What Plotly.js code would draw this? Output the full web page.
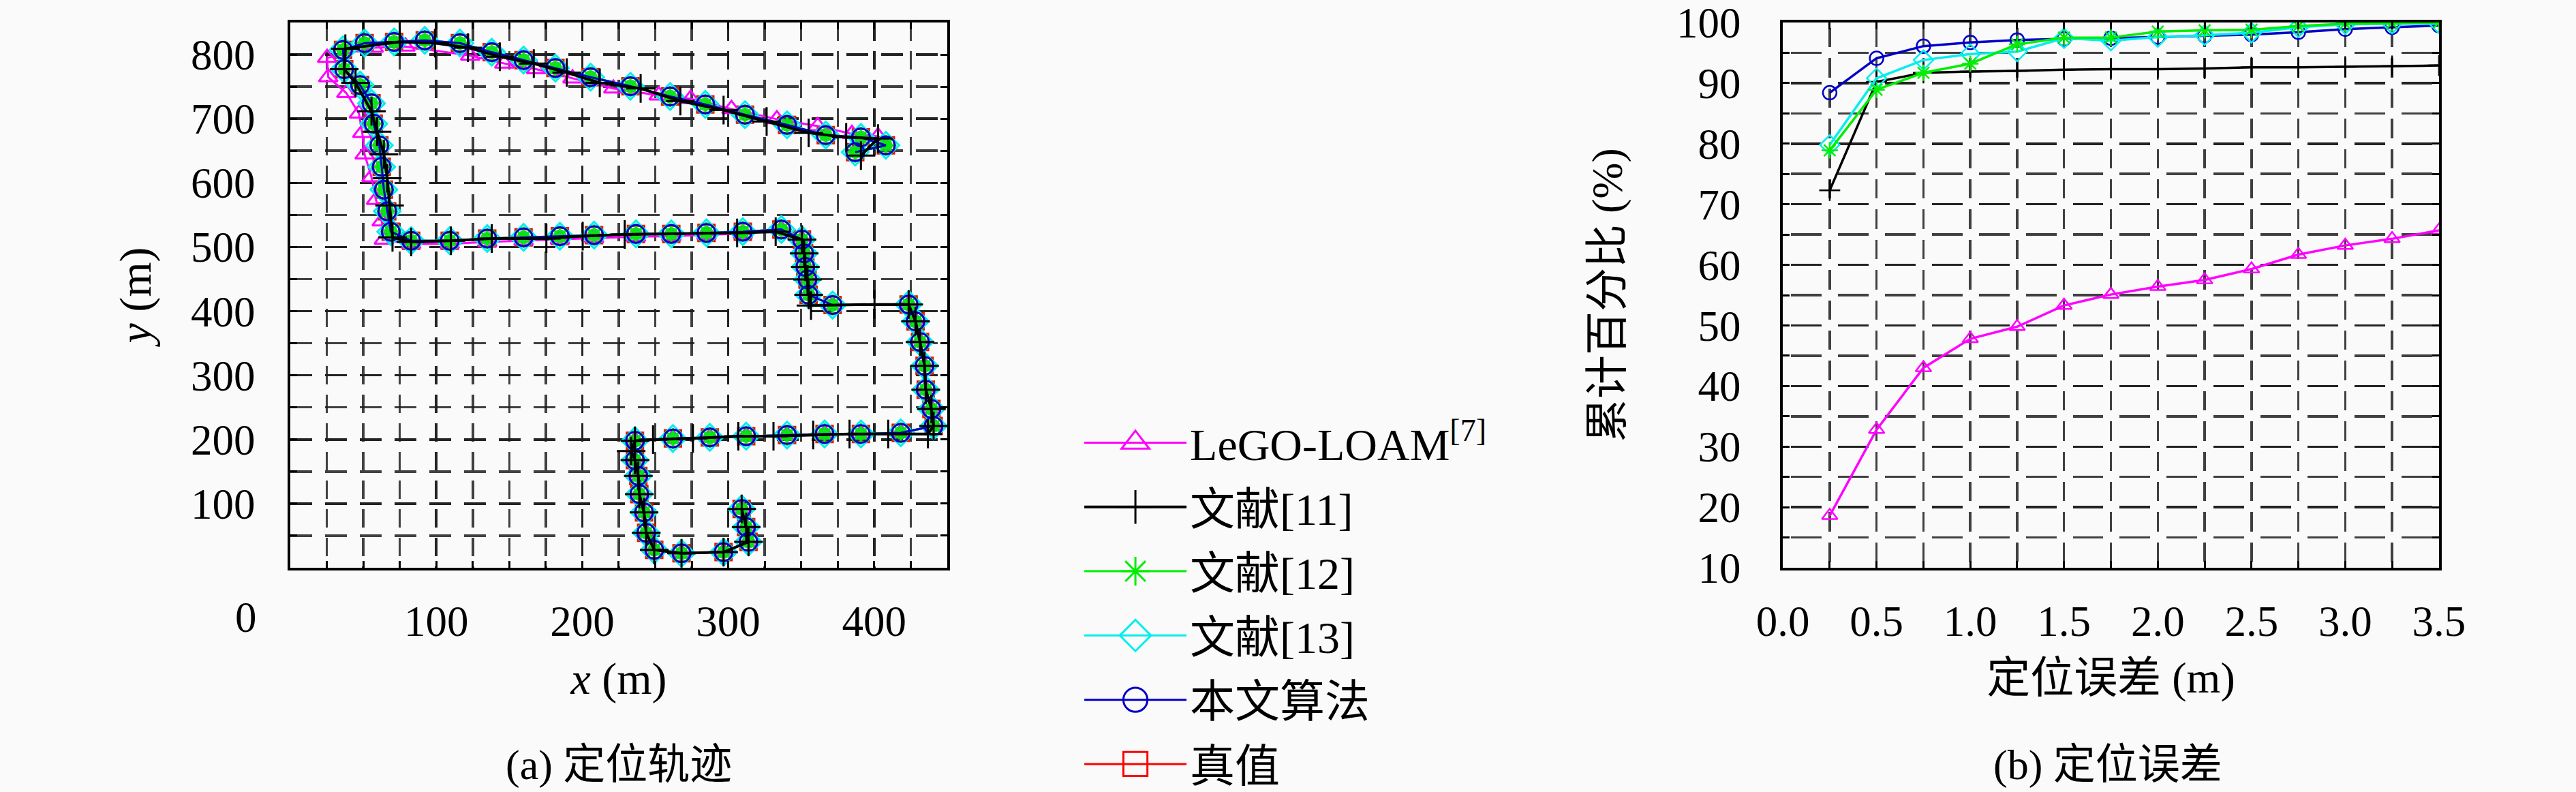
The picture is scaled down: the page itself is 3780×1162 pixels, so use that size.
<!DOCTYPE html>
<html>
<head>
<meta charset="utf-8">
<script src="https://cdn.plot.ly/plotly-3.0.1.min.js"></script>
<style>
  html, body { margin: 0; padding: 0; background: #fafafa; }
</style>
</head>
<body>
<div id="chart" style="width:3780px;height:1162px;"></div>
<script>
// (a) trajectory in metres (circle markers, same path for 12/13/ours/truth)
const trajX = [309.2, 312.3, 313.9, 296.8, 268.0, 249.3, 243.8, 242.3, 239.1, 238.4, 236.1, 236.1,
  262.1, 287.4, 312.3, 340.3, 366.0, 390.9, 418.2, 440.7, 439.2, 435.3, 434.5, 431.4, 428.3, 423.6,
  371.5, 355.1, 354.3, 352.8, 352.0, 350.5, 336.4, 310.0, 285.1, 261.0, 236.8, 208.1, 184.7, 159.8,
  134.9, 109.2, 82.8, 68.8, 66.4, 64.1, 62.6, 61.0, 57.1, 55.6, 47.8, 36.9, 36.1, 50.9, 71.1, 92.1,
  116.2, 138.0, 159.8, 181.6, 205.7, 233.0, 260.2, 284.3, 311.5, 340.3, 366.8, 390.9, 408.0, 387.0];
const trajY = [91.7, 63.4, 40.4, 24.4, 22.6, 28.0, 54.5, 86.4, 114.8, 143.1, 167.9, 198.0,
  201.6, 203.3, 205.1, 206.9, 208.6, 208.6, 210.4, 221.0, 247.6, 277.7, 314.9, 352.1, 384.0, 410.5,
  409.6, 425.5, 449.5, 469.0, 490.2, 511.5, 527.4, 523.9, 522.1, 520.4, 520.4, 518.6, 516.8, 515.1,
  513.3, 509.8, 509.8, 523.9, 555.8, 589.5, 624.9, 658.5, 692.1, 724.0, 752.4, 777.2, 807.3, 817.9,
  819.7, 822.2, 817.9, 803.7, 791.4, 779.0, 764.8, 750.6, 734.7, 722.3, 706.3, 690.4, 674.5, 670.9,
  658.5, 647.9];

// 文献[11] (+ markers)
const ref11X = [309.2, 312.3, 313.9, 296.8, 268.0, 249.3, 243.8, 242.3, 239.1, 238.4, 236.1, 233.5,
  236.1, 248.5, 275.8, 306.9, 331.0, 358.2, 383.1, 409.6, 436.8, 440.7, 439.2, 435.3, 434.5, 431.4,
  428.3, 423.6, 400.2, 356.7, 355.1, 354.3, 352.8, 352.0, 350.5, 332.5, 306.1, 229.1, 200.3, 175.4,
  138.0, 110.0, 82.8, 70.0, 68.0, 66.4, 64.1, 59.4, 55.6, 44.7, 36.9, 37.7, 75.0, 99.1, 121.7, 143.5,
  166.8, 189.4, 212.0, 240.0, 267.2, 296.8, 326.3, 355.1, 380.8, 402.6, 390.9];
const ref11Y = [91.7, 63.4, 40.4, 24.4, 22.6, 28.0, 54.5, 86.4, 114.8, 143.1, 167.9, 182.0,
  198.0, 199.8, 201.6, 205.1, 205.1, 206.9, 208.6, 208.6, 208.6, 221.0, 247.6, 277.7, 314.9, 352.1,
  384.0, 410.5, 410.5, 408.8, 425.5, 449.5, 469.0, 490.2, 511.5, 523.9, 522.1, 519.5, 516.8, 513.3,
  513.3, 509.8, 508.0, 515.0, 564.6, 607.1, 644.3, 679.8, 711.7, 755.9, 777.2, 809.1, 819.7, 817.9,
  810.8, 796.7, 786.0, 771.8, 756.0, 747.1, 727.6, 713.4, 695.7, 678.0, 670.9, 669.2, 642.6];

// LeGO-LOAM (triangles), drifts on the left column and top edge
const legoX = [309.2, 312.3, 313.9, 296.8, 268.0, 249.3, 243.8, 242.3, 239.1, 238.4, 236.1, 236.1,
  262.1, 287.4, 312.3, 340.3, 366.0, 390.9, 418.2, 440.7, 439.2, 435.3, 434.5, 431.4, 428.3, 423.6,
  371.5, 355.1, 354.3, 352.8, 352.0, 350.5, 336.4, 310.0, 285.1, 261.0, 236.8, 208.1, 184.7, 159.8,
  134.9, 109.2, 82.8, 64.1, 62.6, 58.7, 55.6, 50.9, 49.3, 47.0, 38.4, 26.0, 25.2, 57.1, 78.9, 123.2,
  146.6, 168.4, 193.3, 221.3, 252.4, 274.2, 302.2, 333.3, 361.3, 384.7, 402.6];
const legoY = [91.7, 63.4, 40.4, 24.4, 22.6, 28.0, 54.5, 86.4, 114.8, 143.1, 167.9, 198.0,
  201.6, 203.3, 205.1, 206.9, 208.6, 208.6, 210.4, 221.0, 247.6, 277.7, 314.9, 352.1, 384.0, 410.5,
  409.6, 425.5, 449.5, 469.0, 490.2, 511.5, 527.4, 521.0, 519.0, 517.0, 516.0, 514.0, 512.0, 510.0,
  508.0, 505.0, 505.0, 511.5, 539.9, 573.5, 608.9, 644.3, 678.0, 708.1, 740.0, 764.8, 794.9, 810.8,
  812.6, 798.4, 786.1, 777.2, 763.0, 747.1, 736.4, 731.1, 715.2, 699.3, 688.6, 676.2, 672.7];

// (b) cumulative percentage of localisation error
const errX = [0.25, 0.5, 0.75, 1.0, 1.25, 1.5, 1.75, 2.0, 2.25, 2.5, 2.75, 3.0, 3.25, 3.5];
const cdfLego = [18.6, 32.8, 43.0, 47.8, 49.8, 53.3, 55.1, 56.4, 57.5, 59.3, 61.7, 63.2, 64.3, 65.7];
const cdf11 = [72.3, 90.2, 91.7, 91.9, 92.0, 92.2, 92.3, 92.3, 92.4, 92.6, 92.6, 92.7, 92.8, 92.9];
const cdf12 = [78.9, 88.9, 91.7, 93.2, 96.4, 97.5, 97.5, 98.5, 98.7, 98.8, 99.4, 99.8, 99.9, 100.0];
const cdf13 = [79.8, 90.8, 93.8, 94.8, 95.2, 97.4, 97.0, 97.6, 97.9, 98.3, 99.2, 99.7, 99.8, 99.8];
const cdfOurs = [88.4, 94.1, 96.1, 96.7, 97.1, 97.3, 97.4, 97.6, 97.8, 98.0, 98.4, 98.9, 99.2, 99.5];

const names = ['LeGO-LOAM<sup>[7]</sup>', '文献[11]', '文献[12]', '文献[13]', '本文算法', '真值'];
const colors = ['#ff00ff', '#000000', '#00ee00', '#00eeee', '#0000c8', '#ff0000'];
const symbols = ['triangle-up-open', 'cross-thin-open', 'asterisk-open', 'diamond-open', 'circle-open', 'square-open'];

const FONT = "'Liberation Serif', 'Noto Sans CJK SC', serif";
const GRID = 'rgba(30,30,30,0.85)';

function trajTrace(i, xs, ys, size, lw) {
  return {
    x: xs, y: ys, xaxis: 'x', yaxis: 'y', type: 'scatter', mode: 'lines+markers',
    name: names[i], legendgroup: 'g' + i, legendrank: i + 1,
    line: { color: colors[i], width: lw },
    marker: { symbol: symbols[i], size: size, color: colors[i], line: { color: colors[i], width: 3 } }
  };
}
function errTrace(i, ys, size) {
  return {
    x: errX, y: ys, xaxis: 'x2', yaxis: 'y2', type: 'scatter', mode: 'lines+markers',
    name: names[i], legendgroup: 'g' + i, showlegend: false,
    line: { color: colors[i], width: 3.5 },
    marker: { symbol: symbols[i], size: size, color: colors[i], line: { color: colors[i], width: 2.5 } }
  };
}

const data = [
  trajTrace(5, trajX, trajY, 24, 3),
  trajTrace(0, legoX, legoY, 24, 3),
  trajTrace(3, trajX, trajY, 30, 3),
  // the overlapping asterisk strokes read as a green fill inside the circles
  { x: trajX, y: trajY, xaxis: 'x', yaxis: 'y', type: 'scatter', mode: 'markers',
    legendgroup: 'g2', showlegend: false, hoverinfo: 'skip',
    marker: { symbol: 'circle', size: 20, color: 'rgba(20,200,60,0.9)', line: { width: 0 } } },
  trajTrace(2, trajX, trajY, 26, 3),
  trajTrace(4, trajX, trajY, 26, 3),
  trajTrace(1, ref11X, ref11Y, 30, 4),
  errTrace(4, cdfOurs, 20),
  errTrace(1, cdf11, 22),
  errTrace(3, cdf13, 22),
  errTrace(2, cdf12, 20),
  errTrace(0, cdfLego, 20)
];

function frame(extra) {
  return Object.assign({
    showline: true, linecolor: '#000', linewidth: 4, mirror: 'ticks',
    ticks: 'inside', ticklen: 10, tickwidth: 3, tickcolor: '#000',
    showgrid: true, gridcolor: GRID, gridwidth: 3.5,
    zeroline: false, fixedrange: true, ticklabeloverflow: 'allow',
    tickfont: { family: FONT, size: 63, color: '#000' }
  }, extra);
}
function minorGrid(step, dash) {
  return { dtick: step, tick0: 0, ticks: 'inside', ticklen: 10, tickwidth: 3, tickcolor: '#000',
    showgrid: true, gridcolor: GRID, gridwidth: 3.5, griddash: dash };
}

const layout = {
  width: 3780, height: 1162,
  margin: { l: 0, r: 0, t: 0, b: 0, autoexpand: false },
  paper_bgcolor: '#fafafa', plot_bgcolor: '#fafafa',
  font: { family: FONT, color: '#000' },
  showlegend: true,
  legend: {
    x: 0.4196, y: 0.4836, xanchor: 'left', yanchor: 'top',
    font: { family: FONT, size: 66, color: '#000' },
    bgcolor: 'rgba(0,0,0,0)', itemwidth: 150, tracegroupgap: 5.5
  },
  xaxis: frame({
    domain: [0.1127, 0.3677], range: [0, 450], anchor: 'y',
    tickvals: [100, 200, 300, 400], ticklabelstandoff: 20, griddash: '27px,15px',
    minor: minorGrid(25, '27px,15px'),
    title: { text: '<i>x</i> (m)', font: { family: FONT, size: 66 }, standoff: 27 }
  }),
  yaxis: frame({
    domain: [0.2831, 0.9716], range: [0, 850], anchor: 'x',
    tickvals: [100, 200, 300, 400, 500, 600, 700, 800], ticklabelstandoff: 35, griddash: '32px,19px',
    minor: minorGrid(50, '32px,19px'),
    title: { text: '<i>y</i> (m)', font: { family: FONT, size: 66 }, standoff: 38 }
  }),
  xaxis2: frame({
    domain: [0.6921, 0.9468], range: [0, 3.5], anchor: 'y2',
    dtick: 0.5, tick0: 0, tickformat: '.1f', ticklabelstandoff: 20,
    griddash: '0px,8px,28.4px,8px',
    minor: minorGrid(0.25, '0px,8px,28.4px,8px'),
    title: { text: '定位误差 (m)', font: { family: FONT, size: 64 }, standoff: 27 }
  }),
  yaxis2: frame({
    domain: [0.2831, 0.9716], range: [10, 100], anchor: 'x2',
    tickvals: [10, 20, 30, 40, 50, 60, 70, 80, 90, 100], ticklabelstandoff: 45,
    griddash: '0px,12px,44.9px,12px',
    minor: minorGrid(5, '0px,12px,44.9px,12px'),
    title: { text: '累计百分比 (%)', font: { family: FONT, size: 64 }, standoff: 60 }
  }),
  annotations: [
    { text: '0', xref: 'paper', yref: 'paper', x: 0.0955, y: 0.2203, xanchor: 'center', yanchor: 'middle',
      showarrow: false, font: { family: FONT, size: 63 } },
    { text: '(a) 定位轨迹', xref: 'paper', yref: 'paper', x: 0.2402, y: 0.0344, xanchor: 'center', yanchor: 'middle',
      showarrow: false, font: { family: FONT, size: 62 } },
    { text: '(b) 定位误差', xref: 'paper', yref: 'paper', x: 0.8183, y: 0.0344, xanchor: 'center', yanchor: 'middle',
      showarrow: false, font: { family: FONT, size: 62 } }
  ]
};

Plotly.newPlot('chart', data, layout, { staticPlot: true }).then(function () {
  // legend symbols are capped at 16px by plotly; enlarge them to the figure's size
  document.querySelectorAll('.legend .legendpoints path.scatterpts').forEach(function (p) {
    const t = p.getAttribute('transform') || '';
    p.setAttribute('transform', t + ' scale(2.2)');
    p.style.vectorEffect = 'non-scaling-stroke';
    p.style.strokeWidth = '3px';
  });
});
</script>
</body>
</html>
